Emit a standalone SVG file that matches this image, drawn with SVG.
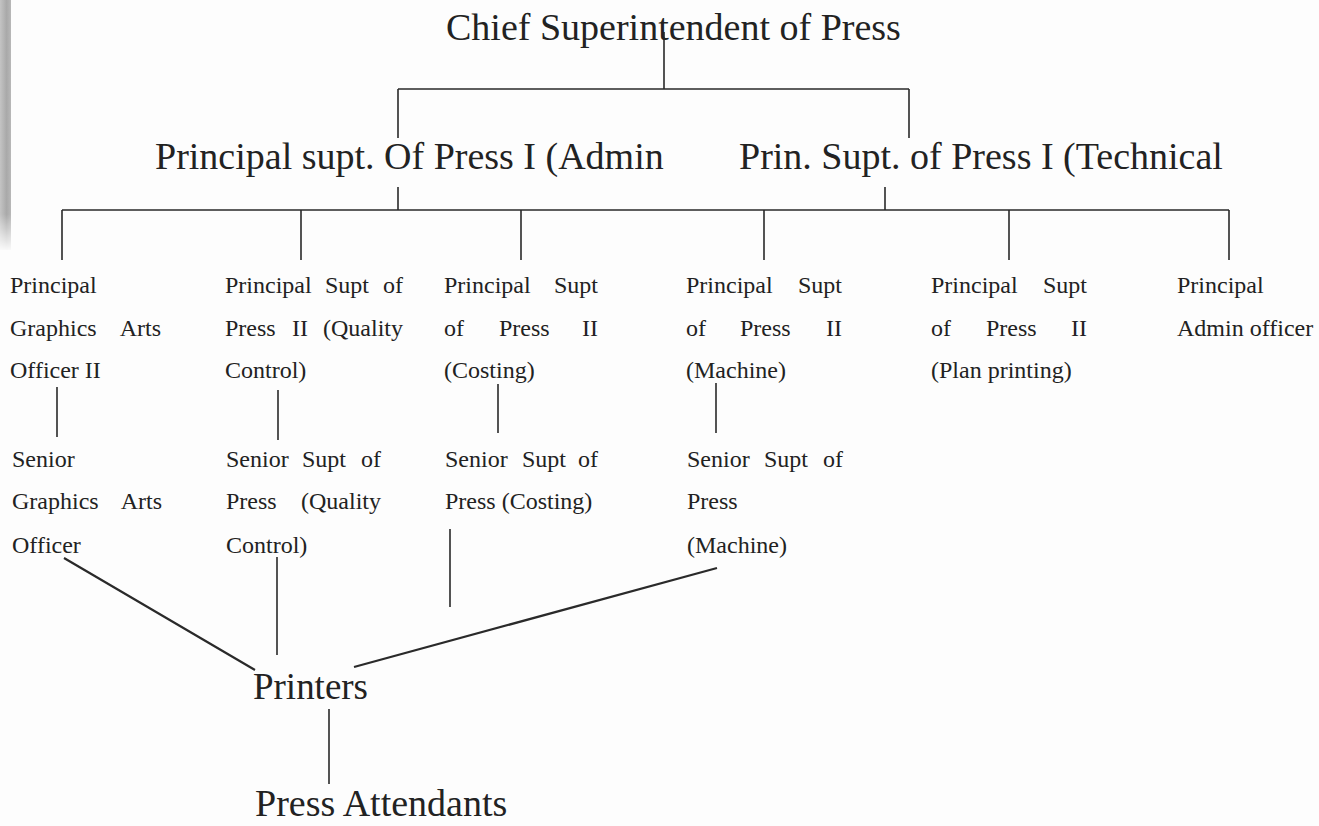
<svg xmlns="http://www.w3.org/2000/svg" width="1319" height="826" viewBox="0 0 1319 826">
<defs>
<linearGradient id="scan" x1="0" y1="0" x2="1" y2="0">
<stop offset="0" stop-color="#c4c4c4"/>
<stop offset="0.6" stop-color="#a9a9a9"/>
<stop offset="1" stop-color="#b8b8b8"/>
</linearGradient>
<linearGradient id="fade" x1="0" y1="0" x2="0" y2="1">
<stop offset="0" stop-color="#fff" stop-opacity="1"/>
<stop offset="0.85" stop-color="#fff" stop-opacity="1"/>
<stop offset="1" stop-color="#fff" stop-opacity="0"/>
</linearGradient>
<mask id="fm"><rect x="0" y="0" width="14" height="252" fill="url(#fade)"/></mask>
</defs>
<style>
text { font-family: "Liberation Serif", "Times New Roman", serif; fill: #222; }
.big { font-size: 38px; }
.sm { font-size: 24px; }
.c { stroke: #2a2a2a; stroke-width: 1.6; fill: none; }
.d { stroke: #2a2a2a; stroke-width: 2.2; fill: none; }
</style>
<rect width="1319" height="826" fill="#fdfdfd"/>
<rect x="0" y="0" width="11" height="250" fill="url(#scan)" mask="url(#fm)"/>

<g id="connectors">
<path class="c" d="M664 32 V89 M398 89 H909 M398 89 V138 M909 89 V138"/>
<path class="c" d="M398 187 V210 M885 187 V210 M62 210 H1229"/>
<path class="c" d="M62 210 V260 M301 210 V260 M521 210 V260 M764 210 V260 M1009 210 V260 M1229 210 V260"/>
<path class="c" d="M57 387 V437 M278 390 V440 M498 384 V433 M716 383 V433"/>
<path class="c" d="M277 557 V655 M450 529 V607 M329 709 V784"/>
<path class="d" d="M64 558 L255 670 M717 568 L354 667"/>
</g>

<g id="chief"><text class="big" x="446" y="40">Chief Superintendent of Press</text></g>
<g id="admin"><text class="big" x="155" y="169">Principal supt. Of Press I (Admin</text></g>
<g id="technical"><text class="big" x="739" y="169">Prin. Supt. of Press I (Technical</text></g>

<g id="graphics-officer">
<text class="sm" x="10" y="293">Principal</text>
<text class="sm" y="336"><tspan x="10">Graphics</tspan> <tspan x="161" text-anchor="end">Arts</tspan></text>
<text class="sm" x="10" y="378">Officer II</text>
</g>
<g id="quality-control">
<text class="sm" y="293"><tspan x="225">Principal</tspan> <tspan x="325">Supt</tspan> <tspan x="403" text-anchor="end">of</tspan></text>
<text class="sm" y="336"><tspan x="225">Press</tspan> <tspan x="292">II</tspan> <tspan x="403" text-anchor="end">(Quality</tspan></text>
<text class="sm" x="225" y="378">Control)</text>
</g>
<g id="costing">
<text class="sm" y="293"><tspan x="444">Principal</tspan> <tspan x="598" text-anchor="end">Supt</tspan></text>
<text class="sm" y="336"><tspan x="444">of</tspan> <tspan x="499">Press</tspan> <tspan x="598" text-anchor="end">II</tspan></text>
<text class="sm" x="444" y="378">(Costing)</text>
</g>
<g id="machine">
<text class="sm" y="293"><tspan x="686">Principal</tspan> <tspan x="842" text-anchor="end">Supt</tspan></text>
<text class="sm" y="336"><tspan x="686">of</tspan> <tspan x="740">Press</tspan> <tspan x="842" text-anchor="end">II</tspan></text>
<text class="sm" x="686" y="378">(Machine)</text>
</g>
<g id="plan-printing">
<text class="sm" y="293"><tspan x="931">Principal</tspan> <tspan x="1087" text-anchor="end">Supt</tspan></text>
<text class="sm" y="336"><tspan x="931">of</tspan> <tspan x="986">Press</tspan> <tspan x="1087" text-anchor="end">II</tspan></text>
<text class="sm" x="931" y="378">(Plan printing)</text>
</g>
<g id="admin-officer">
<text class="sm" x="1177" y="293">Principal</text>
<text class="sm" x="1177" y="336">Admin officer</text>
</g>

<g id="senior-graphics">
<text class="sm" x="12" y="467">Senior</text>
<text class="sm" y="509"><tspan x="12">Graphics</tspan> <tspan x="162" text-anchor="end">Arts</tspan></text>
<text class="sm" x="12" y="553">Officer</text>
</g>
<g id="senior-quality">
<text class="sm" y="467"><tspan x="226">Senior</tspan> <tspan x="302">Supt</tspan> <tspan x="381" text-anchor="end">of</tspan></text>
<text class="sm" y="509"><tspan x="226">Press</tspan> <tspan x="381" text-anchor="end">(Quality</tspan></text>
<text class="sm" x="226" y="553">Control)</text>
</g>
<g id="senior-costing">
<text class="sm" y="467"><tspan x="445">Senior</tspan> <tspan x="522">Supt</tspan> <tspan x="598" text-anchor="end">of</tspan></text>
<text class="sm" x="445" y="509">Press (Costing)</text>
</g>
<g id="senior-machine">
<text class="sm" y="467"><tspan x="687">Senior</tspan> <tspan x="764">Supt</tspan> <tspan x="843" text-anchor="end">of</tspan></text>
<text class="sm" x="687" y="509">Press</text>
<text class="sm" x="687" y="553">(Machine)</text>
</g>

<g id="printers"><text class="big" x="253" y="699" textLength="115" lengthAdjust="spacingAndGlyphs">Printers</text></g>
<g id="press-attendants"><text class="big" x="255" y="816">Press Attendants</text></g>
</svg>
